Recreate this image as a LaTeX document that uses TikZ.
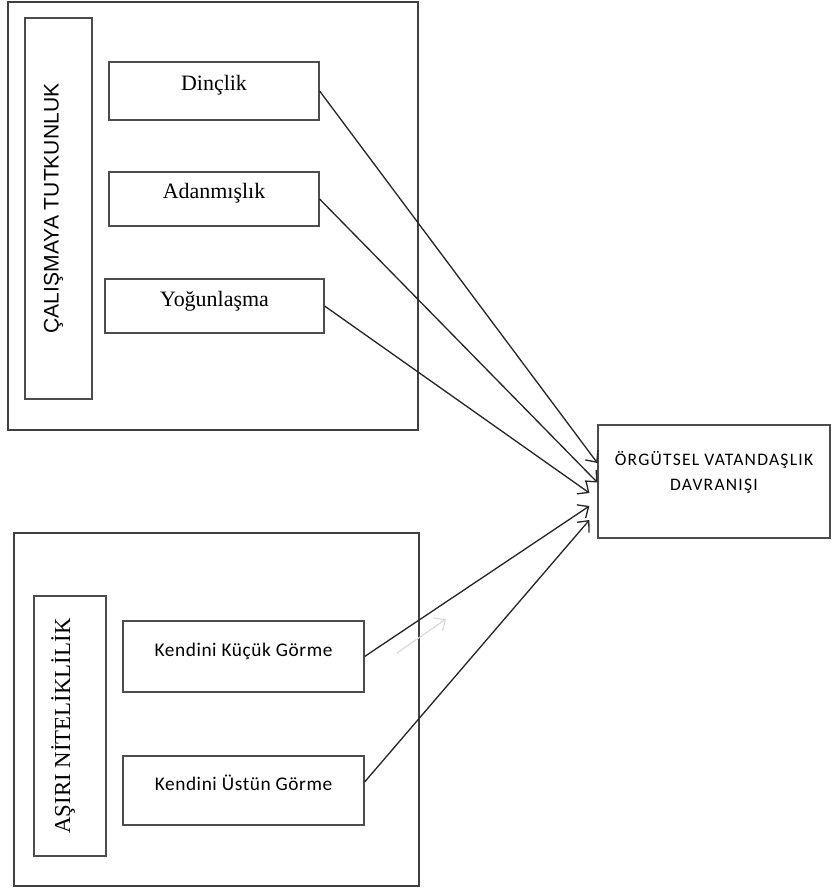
\documentclass[tikz,border=0pt]{standalone}
\usepackage{fontspec}
\setmainfont{Liberation Serif}
\newfontfamily\carlito[LetterSpace=7]{Carlito}
\newfontfamily\carlitowide[LetterSpace=3]{Carlito}
\newfontfamily\arialfont{Liberation Sans}
\usetikzlibrary{arrows.meta}

\begin{document}
\begin{tikzpicture}[x=0.02cm, y=-0.02cm,
    frame/.style ={rectangle, draw=black!75, line width=0.8pt, inner sep=0pt},
    construct/.style ={rectangle, draw=black!70, line width=0.7pt, inner sep=0pt, rotate=90, text height=8pt, text depth=8pt},
    dimension/.style ={rectangle, draw=black!70, line width=0.7pt, inner sep=0pt, text height=8pt, text depth=8pt},
    effect/.style ={-{Straight Barb[length=5pt, width=9pt]}, line width=0.75pt, draw=black!85},
    ghost/.style ={-{Straight Barb[length=5pt, width=9pt]}, line width=0.7pt, draw=black!15}]
   \useasboundingbox (0,0) rectangle (832,888);
   % upper block
   \node[frame, minimum width=8.2cm, minimum height=8.56cm] (passion) at (213,216) {};
   \node[construct, minimum width=7.62cm, minimum height=1.34cm, font=\arialfont\fontsize{12}{14}\selectfont] (ct) at (58.5,208.5) {ÇALIŞMAYA TUTKUNLUK};
   \node[dimension, minimum width=4.2cm, minimum height=1.16cm, font=\fontsize{12.5}{15}\selectfont] (dinc) at (214,91) {Dinçlik};
   \node[dimension, minimum width=4.2cm, minimum height=1.08cm, font=\fontsize{12.5}{15}\selectfont] (adan) at (214,199) {Adanmışlık};
   \node[dimension, minimum width=4.38cm, minimum height=1.08cm, font=\fontsize{12.5}{15}\selectfont] (yogun) at (214.5,306) {Yoğunlaşma};
   % lower block
   \node[frame, minimum width=8.1cm, minimum height=7.06cm] (over) at (216.5,709.5) {};
   \node[construct, minimum width=5.2cm, minimum height=1.44cm, font=\fontsize{13}{15}\selectfont] (an) at (70,726) {AŞIRI NİTELİKLİLİK};
   \node[dimension, minimum width=4.82cm, minimum height=1.42cm, font=\carlitowide\fontsize{11}{13}\selectfont] (kucuk) at (243.5,656.5) {Kendini Küçük Görme};
   \node[dimension, minimum width=4.82cm, minimum height=1.38cm, font=\carlitowide\fontsize{11}{13}\selectfont] (ustun) at (243.5,790.5) {Kendini Üstün Görme};
   % outcome
   \node[rectangle, draw=black!70, line width=0.7pt, inner sep=0pt, minimum width=4.64cm, minimum height=2.26cm,
         label={[align=center, yshift=5pt, font=\carlito\fontsize{10}{14}\selectfont]center:ÖRGÜTSEL VATANDAŞLIK\\DAVRANIŞI}] (ovd) at (714,481.5) {};
   \coordinate (g1) at (397,653);
   \coordinate (g2) at (446,619);
   \draw[effect] (dinc.east) to ([yshift=0.37cm]ovd.west);
   \draw[effect] (adan.east) to ([yshift=-0.02cm]ovd.west);
   \draw[effect] (yogun.east) to ([xshift=-0.16cm, yshift=-0.23cm]ovd.west);
   \draw[effect] (kucuk.east) to ([xshift=-0.16cm, yshift=-0.49cm]ovd.west);
   \draw[effect] ([yshift=0.17cm]ustun.east) to ([xshift=-0.16cm, yshift=-0.77cm]ovd.west);
   \draw[ghost] (g1) to (g2);
 \end{tikzpicture}
\end{document}
